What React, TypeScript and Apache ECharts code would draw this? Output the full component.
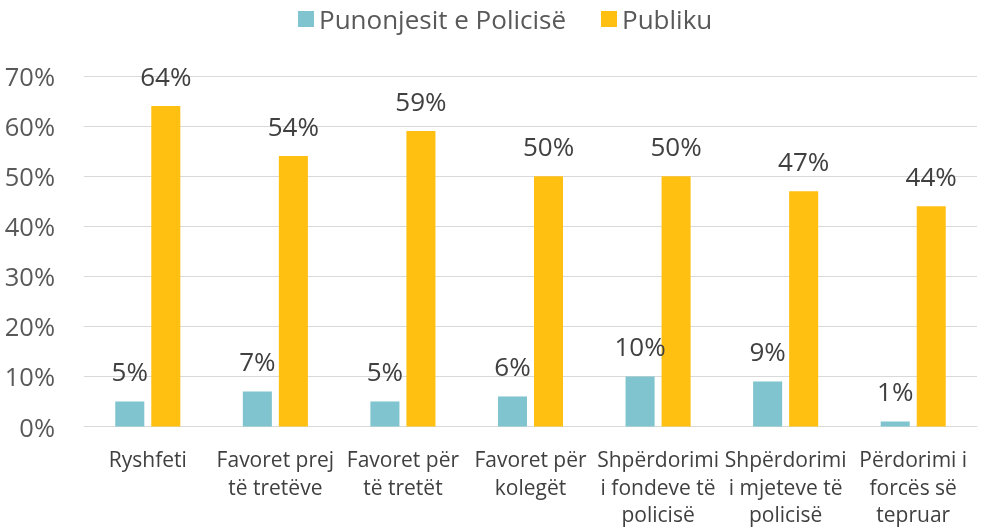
import React, { useEffect, useRef } from "react";
import * as echarts from "echarts";

const categories = [
  "Ryshfeti",
  "Favoret prej\ntë tretëve",
  "Favoret për\ntë tretët",
  "Favoret për\nkolegët",
  "Shpërdorimi\ni fondeve të\npolicisë",
  "Shpërdorimi\ni mjeteve të\npolicisë",
  "Përdorimi i\nforcës së\ntepruar",
];
const police = [5, 7, 5, 6, 10, 9, 1];
const publicVals = [64, 54, 59, 50, 50, 47, 44];
const yTicks = [0, 10, 20, 30, 40, 50, 60, 70];

export default function App() {
  const ref = useRef<HTMLDivElement>(null);
  useEffect(() => {
    if (!ref.current) return;
    const chart = echarts.init(ref.current, undefined, { renderer: "svg" });
    const font = "Open Sans";
    const label = {
      show: true,
      position: "top" as const,
      distance: 17,
      formatter: "{c}%",
      color: "#404040",
      fontSize: 26,
      fontFamily: font,
    };
    chart.setOption({
      animation: false,
      legend: {
        top: 1,
        left: 293,
        itemWidth: 16,
        itemHeight: 16,
        itemGap: 35,
        icon: "rect",
        textStyle: { fontSize: 26, color: "#595959", fontFamily: font },
        data: ["Punonjesit e Policisë", "Publiku"],
      },
      grid: { left: 84, right: 4, top: 76, bottom: 101, containLabel: false },
      xAxis: {
        type: "category",
        data: categories,
        axisTick: { show: false },
        axisLine: { lineStyle: { color: "#d9d9d9", width: 1 } },
        axisLabel: {
          color: "#404040",
          fontSize: 21,
          lineHeight: 27.5,
          fontFamily: font,
          interval: 0,
          margin: 19,
        },
      },
      yAxis: {
        type: "value",
        min: yTicks[0],
        max: yTicks[yTicks.length - 1],
        interval: 10,
        axisLabel: {
          formatter: "{value}%",
          color: "#595959",
          fontSize: 25.5,
          fontFamily: font,
          margin: 29,
        },
        splitLine: { lineStyle: { color: "#d9d9d9", width: 1 } },
        axisLine: { show: false },
        axisTick: { show: false },
      },
      series: [
        {
          name: "Punonjesit e Policisë",
          type: "bar",
          data: police,
          itemStyle: { color: "#7FC4CE" },
          barGap: "24%",
          barCategoryGap: "49%",
          label,
        },
        {
          name: "Publiku",
          type: "bar",
          data: publicVals,
          itemStyle: { color: "#FFC012" },
          barGap: "24%",
          barCategoryGap: "49%",
          label,
        },
      ],
    });
    return () => chart.dispose();
  }, []);
  return (
    <div
      ref={ref}
      style={{ position: "fixed", left: 0, top: 0, width: 981, height: 528 }}
    />
  );
}
